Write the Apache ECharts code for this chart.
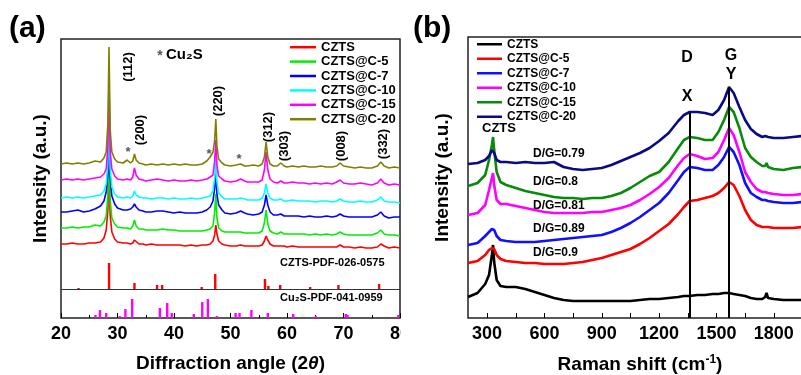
<!DOCTYPE html>
<html>
<head>
<meta charset="utf-8">
<script src="https://cdn.jsdelivr.net/npm/echarts@6.0.0/dist/echarts.min.js"></script>
<style>
  html, body { margin: 0; padding: 0; background: #fff; }
  #a { position: absolute; left: 0; top: 0; width: 401px; height: 375px; }
  #b { position: absolute; left: 401px; top: 0; width: 400px; height: 375px; }
</style>
</head>
<body>
<div id="a"></div>
<div id="b"></div>
<script>
// ---- panel (a): XRD ----
const xrdAngle = [20, 21, 22, 23, 24, 25, 26, 27, 27.6, 28.0, 28.3, 28.5, 28.7, 29.0, 29.5, 30, 31, 31.7, 32.3, 32.7,
  33.0, 33.3, 33.8, 34.5, 35, 36, 37, 38, 39, 40, 41, 42, 43, 44, 45, 45.8, 46.4, 46.9, 47.2, 47.4,
  47.6, 47.9, 48.5, 49, 50, 51, 51.8, 52.5, 53, 54, 55, 55.6, 56.0, 56.3, 56.6, 57.0, 57.6, 58.3, 58.9, 59.5,
  60, 61, 62, 63, 64, 65, 66, 67, 68, 68.8, 69.4, 70, 71, 72, 73, 74, 75, 76, 76.6, 77.2,
  78, 79, 80]
const xrdCzts = [74, 74, 75, 74, 74, 75, 75, 76, 80, 88, 108, 156, 103, 86, 79, 76, 75, 75, 74, 75,
  78, 76, 74, 74, 73, 74, 73, 73, 73, 73, 73, 72, 73, 72, 73, 73, 74, 77, 83, 93,
  84, 77, 74, 73, 72, 72, 73, 72, 72, 72, 72, 73, 77, 82, 78, 74, 72, 72, 72, 72,
  71, 72, 71, 71, 71, 71, 71, 71, 71, 71, 73, 71, 71, 70, 71, 70, 70, 71, 74, 72,
  70, 71, 70]
const xrdC5 = [90, 90, 91, 90, 91, 91, 93, 92, 96, 102, 123, 182, 118, 100, 94, 91, 90, 90, 89, 92,
  98, 92, 89, 89, 88, 88, 88, 89, 88, 88, 87, 87, 87, 87, 87, 88, 89, 92, 106, 124,
  100, 90, 87, 86, 86, 86, 86, 85, 85, 85, 85, 87, 95, 108, 94, 87, 85, 84, 86, 84,
  84, 84, 84, 84, 83, 84, 83, 84, 83, 84, 86, 84, 83, 83, 83, 83, 83, 85, 88, 84,
  83, 83, 82]
const xrdC7 = [106, 106, 107, 108, 106, 107, 109, 112, 117, 126, 145, 196, 140, 122, 114, 110, 108, 108, 109, 111,
  114, 111, 108, 107, 106, 106, 107, 107, 106, 105, 106, 105, 105, 105, 106, 108, 111, 117, 130, 146,
  124, 113, 108, 105, 104, 105, 107, 105, 104, 103, 104, 106, 113, 123, 113, 106, 103, 103, 104, 102,
  102, 102, 102, 101, 102, 101, 101, 102, 101, 102, 104, 102, 101, 101, 101, 101, 101, 103, 106, 102,
  100, 101, 101]
const xrdC10 = [120, 121, 120, 121, 120, 121, 122, 123, 127, 134, 156, 215, 150, 131, 124, 121, 120, 121, 120, 122,
  127, 123, 121, 120, 120, 119, 120, 120, 119, 120, 119, 119, 120, 119, 120, 121, 122, 127, 140, 160,
  136, 125, 121, 119, 119, 119, 120, 119, 118, 118, 118, 120, 125, 134, 125, 120, 118, 118, 119, 117,
  117, 118, 117, 117, 117, 116, 117, 117, 116, 117, 119, 117, 116, 116, 117, 116, 116, 118, 121, 117,
  116, 116, 115]
const xrdC15 = [138, 139, 138, 139, 138, 139, 140, 141, 144, 149, 172, 238, 167, 149, 142, 139, 138, 139, 138, 141,
  150, 143, 139, 138, 137, 138, 139, 138, 137, 138, 137, 137, 138, 137, 138, 139, 141, 143, 157, 178,
  153, 142, 139, 137, 136, 137, 139, 137, 136, 136, 136, 138, 148, 166, 148, 139, 136, 135, 137, 135,
  135, 136, 135, 135, 134, 135, 134, 135, 134, 136, 138, 135, 134, 134, 135, 134, 133, 135, 139, 135,
  133, 134, 133]
const xrdC20 = [154, 155, 154, 155, 154, 155, 157, 156, 160, 166, 195, 271, 189, 166, 159, 156, 155, 158, 155, 157,
  164, 158, 155, 154, 153, 154, 153, 154, 153, 154, 153, 154, 153, 153, 154, 157, 161, 166, 178, 199,
  172, 159, 155, 153, 152, 153, 154, 152, 152, 153, 152, 154, 161, 176, 161, 154, 152, 152, 155, 152,
  151, 152, 151, 152, 151, 151, 152, 151, 151, 152, 155, 152, 151, 150, 151, 150, 150, 152, 156, 152,
  150, 151, 150]

// reference patterns (stick heights)
const cztsRefAngle = [23.1, 28.5, 33.0, 37.0, 37.9, 44.9, 47.3, 56.1, 56.7, 58.8, 64.1, 69.1, 76.3]
const cztsRefHeight = [1, 26, 6, 4, 4, 2, 15, 10, 3, 4, 2, 4, 5]
const cztsRefBase = 29
const cu2sRefAngle = [26.1, 26.9, 28.0, 30.4, 31.4, 32.6, 37.5, 38.8, 39.6, 43.5, 45.0, 46.0, 47.6, 50.9, 51.6,
  53.7, 56.6, 61.1, 65.1, 70.4, 70.7, 79.7]
const cu2sRefHeight = [3, 8, 5, 2, 9, 19, 10, 15, 5, 4, 16, 19, 2, 5, 5, 8, 5, 4, 2, 4, 3, 3]

const xrdNames = ['CZTS', 'CZTS@C-5', 'CZTS@C-7', 'CZTS@C-10', 'CZTS@C-15', 'CZTS@C-20']
const xrdColors = ['#ff0000', '#00ee00', '#0000ff', '#00ffff', '#ff00ff', '#808000']

// ---- panel (b): Raman ----
const ramanShift = [200, 250, 290, 310, 325, 331, 337, 350, 370, 400, 450, 500, 550, 600, 650, 700, 750, 800, 850, 900,
  950, 1000, 1050, 1100, 1150, 1200, 1250, 1300, 1330, 1360, 1400, 1440, 1480, 1510, 1540, 1566, 1590, 1620, 1650, 1680,
  1710, 1740, 1755, 1762, 1770, 1800, 1850, 1900, 1950, 2000]
const ramanCzts = [21, 25, 34, 43, 63, 73, 56, 38, 32, 31, 31, 29, 26, 23, 20, 18, 17, 17, 17, 17,
  17, 17, 17, 18, 19, 19, 20, 21, 22, 22, 23, 23, 24, 24, 25, 25, 24, 23, 22, 20,
  19, 19, 21, 25, 20, 19, 18, 18, 18, 18]
const ramanC5 = [55, 57, 63, 68, 70, 71, 69, 63, 59, 57, 56, 55, 55, 54, 54, 54, 55, 56, 58, 60,
  63, 66, 69, 74, 80, 87, 94, 104, 111, 117, 118, 120, 122, 125, 130, 136, 133, 122, 108, 98,
  93, 91, 91, 93, 91, 90, 90, 90, 91, 91]
const ramanC7 = [73, 75, 82, 86, 89, 90, 88, 82, 78, 77, 76, 76, 76, 77, 78, 79, 80, 81, 82, 83,
  86, 90, 95, 101, 108, 115, 125, 138, 146, 151, 150, 148, 148, 153, 161, 171, 166, 153, 135, 125,
  121, 118, 118, 120, 117, 116, 115, 115, 116, 116]
const ramanC10 = [103, 105, 113, 128, 140, 145, 133, 118, 114, 114, 112, 110, 108, 106, 105, 105, 105, 105, 106, 106,
  108, 110, 113, 118, 124, 131, 140, 153, 160, 164, 162, 159, 160, 166, 178, 190, 183, 166, 146, 136,
  129, 126, 126, 128, 125, 124, 123, 123, 124, 124]
const ramanC15 = [132, 135, 143, 158, 173, 181, 168, 146, 136, 133, 130, 127, 125, 123, 121, 120, 120, 119, 120, 120,
  122, 125, 130, 136, 142, 146, 156, 170, 178, 181, 180, 178, 178, 186, 198, 211, 206, 190, 170, 161,
  156, 152, 152, 155, 151, 149, 148, 150, 151, 151]
const ramanC20 = [154, 155, 158, 162, 168, 170, 165, 158, 156, 156, 155, 156, 155, 155, 156, 151, 149, 148, 149, 150,
  153, 157, 161, 165, 170, 177, 185, 197, 203, 206, 206, 205, 203, 208, 218, 231, 225, 211, 198, 189,
  184, 181, 182, 184, 181, 180, 180, 181, 182, 182]
const bandD = [1362, 206]
const bandG = [1566, 231]
const ramanTicks = [300, 600, 900, 1200, 1500, 1800]
const ramanMinorTicks = [300, 450, 600, 750, 900, 1050, 1200, 1350, 1500, 1650, 1800, 1950]
const ratioLabels = ['D/G=0.79', 'D/G=0.8', 'D/G=0.81', 'D/G=0.89', 'D/G=0.9']

const ramanNames = ['CZTS', 'CZTS@C-5', 'CZTS@C-7', 'CZTS@C-10', 'CZTS@C-15', 'CZTS@C-20']
const ramanColors = ['#000000', '#ff0000', '#1010ff', '#ff00ff', '#098a09', '#0a0a86']

const FONT = '"Liberation Sans", Arial, sans-serif'

function zip(xs, ys) {
  return xs.map((x, i) => [x, ys[i]])
}

function txt(x, y, text, size, opts) {
  opts = opts || {}
  return {
    type: 'text',
    x: x,
    y: y,
    rotation: opts.rotation || 0,
    style: {
      text: text,
      font: 'bold ' + size + 'px ' + FONT,
      fill: opts.fill || '#000',
      align: opts.align || 'left',
      verticalAlign: 'middle'
    }
  }
}

// peak index labels, reading bottom to top
function vtxt(x, y, text) {
  return txt(x, y, text, 13, { rotation: Math.PI / 2, align: 'center' })
}

function star(x, y, size) {
  return txt(x, y, '*', size, { fill: '#555', align: 'center' })
}

function sticks(name, angles, heights, base, color) {
  return {
    name: name,
    type: 'custom',
    data: zip(angles, heights),
    renderItem(params, api) {
      const p0 = api.coord([api.value(0), base])
      const p1 = api.coord([api.value(0), base + api.value(1)])
      return {
        type: 'rect',
        shape: { x: p0[0] - 1.2, y: p1[1], width: 2.4, height: p0[1] - p1[1] },
        style: { fill: color }
      }
    },
    z: 1
  }
}

// ---------- chart a ----------
const chartA = echarts.init(document.getElementById('a'))
const xrdSets = [xrdCzts, xrdC5, xrdC7, xrdC10, xrdC15, xrdC20]
const seriesA = xrdSets.map((ys, i) => ({
  name: xrdNames[i],
  type: 'line',
  data: zip(xrdAngle, ys),
  showSymbol: false,
  symbol: 'none',
  lineStyle: { width: 1.6, color: xrdColors[i] },
  itemStyle: { color: xrdColors[i] },
  z: 2
}))
seriesA[0].markLine = {
  silent: true,
  symbol: 'none',
  label: { show: false },
  lineStyle: { color: '#333', width: 1, type: 'solid' },
  data: [{ yAxis: cztsRefBase }]
}
seriesA.push(sticks('CZTS-PDF', cztsRefAngle, cztsRefHeight, cztsRefBase, '#ff0000'))
seriesA.push(sticks('Cu2S-PDF', cu2sRefAngle, cu2sRefHeight, 0, '#ff00ff'))

chartA.setOption({
  animation: false,
  textStyle: { fontFamily: FONT },
  grid: {
    left: 61, top: 39, width: 339, height: 279,
    outerBoundsMode: 'none',
    show: true, borderColor: '#222', borderWidth: 1.5
  },
  legend: {
    orient: 'vertical',
    left: 290,
    top: 40,
    padding: 0,
    itemGap: 0,
    itemWidth: 26,
    itemHeight: 2.5,
    icon: 'rect',
    data: xrdNames,
    textStyle: { fontSize: 13, fontWeight: 'bold', color: '#000', lineHeight: 14.4, fontFamily: FONT }
  },
  xAxis: {
    type: 'value',
    min: 20,
    max: 80,
    interval: 10,
    axisLine: { show: false },
    axisTick: { inside: true, length: 5, lineStyle: { color: '#000' } },
    minorTick: { show: true, splitNumber: 2, length: 3, lineStyle: { color: '#000' } },
    splitLine: { show: false },
    axisLabel: { fontSize: 18, fontWeight: 'bold', color: '#000', margin: 7, fontFamily: FONT },
    name: '{n|Diffraction angle (2}{i|θ}{n|)}',
    nameLocation: 'middle',
    nameGap: 36,
    nameTextStyle: {
      rich: {
        n: { fontSize: 19, fontWeight: 'bold', color: '#000', fontFamily: FONT },
        i: { fontSize: 19, fontWeight: 'bold', fontStyle: 'italic', color: '#000', fontFamily: FONT }
      }
    }
  },
  yAxis: {
    type: 'value',
    min: 0,
    max: 279,
    axisLine: { show: false },
    axisTick: { show: false },
    axisLabel: { show: false },
    splitLine: { show: false },
    name: 'Intensity (a.u.)',
    nameLocation: 'middle',
    nameGap: 11,
    nameTextStyle: { fontSize: 19, fontWeight: 'bold', color: '#000', fontFamily: FONT }
  },
  graphic: [
    txt(9, 29, '(a)', 30),
    star(160, 56, 14),
    txt(166, 55, 'Cu₂S', 15),
    vtxt(128, 67, '(112)'),
    vtxt(140, 130, '(200)'),
    vtxt(218, 101, '(220)'),
    vtxt(268, 127, '(312)'),
    vtxt(284, 146, '(303)'),
    vtxt(341, 146, '(008)'),
    vtxt(383, 144, '(332)'),
    star(128, 152, 13),
    star(209, 154, 13),
    star(239, 159, 13),
    txt(280, 263, 'CZTS-PDF-026-0575', 11),
    txt(280, 298, 'Cu₂S-PDF-041-0959', 11)
  ],
  series: seriesA
})

// ---------- chart b ----------
const chartB = echarts.init(document.getElementById('b'))
const ramanSets = [ramanCzts, ramanC5, ramanC7, ramanC10, ramanC15, ramanC20]
const seriesB = ramanSets.map((ys, i) => ({
  name: ramanNames[i],
  type: 'line',
  data: zip(ramanShift, ys),
  showSymbol: false,
  symbol: 'none',
  lineStyle: { width: 2.6, color: ramanColors[i] },
  itemStyle: { color: ramanColors[i] }
}))
seriesB[5].markLine = {
  silent: true,
  symbol: 'none',
  label: { show: false },
  lineStyle: { color: '#000', width: 2, type: 'solid' },
  data: [
    [{ coord: [bandD[0], 0] }, { coord: bandD }],
    [{ coord: [bandG[0], 0] }, { coord: bandG }]
  ]
}

chartB.setOption({
  animation: false,
  textStyle: { fontFamily: FONT },
  grid: {
    left: 67, top: 37, width: 344, height: 281,
    outerBoundsMode: 'none',
    show: true, borderColor: '#222', borderWidth: 1.5
  },
  legend: {
    orient: 'vertical',
    left: 76,
    top: 37,
    padding: 0,
    itemGap: 0,
    itemWidth: 25,
    itemHeight: 2.5,
    icon: 'rect',
    data: ramanNames,
    textStyle: { fontSize: 12, fontWeight: 'bold', color: '#000', lineHeight: 14.5, fontFamily: FONT }
  },
  xAxis: {
    type: 'value',
    min: 200,
    max: 2000,
    axisLine: { show: false },
    axisTick: { inside: true, length: 5, customValues: ramanMinorTicks, lineStyle: { color: '#000' } },
    splitLine: { show: false },
    axisLabel: {
      fontSize: 18, fontWeight: 'bold', color: '#000', margin: 7, fontFamily: FONT,
      customValues: ramanTicks,
      formatter: v => String(v)
    },
    name: '{n|Raman shift (cm}{s|-1}{n|)}',
    nameLocation: 'middle',
    nameGap: 36,
    nameTextStyle: {
      rich: {
        n: { fontSize: 19, fontWeight: 'bold', color: '#000', fontFamily: FONT },
        s: { fontSize: 12, fontWeight: 'bold', color: '#000', fontFamily: FONT, padding: [0, 0, 9, 0] }
      }
    }
  },
  yAxis: {
    type: 'value',
    min: 0,
    max: 281,
    axisLine: { show: false },
    axisTick: { show: false },
    axisLabel: { show: false },
    splitLine: { show: false },
    name: 'Intensity (a.u.)',
    nameLocation: 'middle',
    nameGap: 16,
    nameTextStyle: { fontSize: 19, fontWeight: 'bold', color: '#000', fontFamily: FONT }
  },
  graphic: [
    txt(12, 29, '(b)', 30),
    txt(286, 58, 'D', 16, { align: 'center' }),
    txt(330, 56, 'G', 16, { align: 'center' }),
    txt(330, 75, 'Y', 16, { align: 'center' }),
    txt(286, 97, 'X', 16, { align: 'center' }),
    txt(81, 128, 'CZTS', 13),
    txt(132, 154, ratioLabels[0], 12),
    txt(132, 182, ratioLabels[1], 12),
    txt(132, 206, ratioLabels[2], 12),
    txt(132, 229, ratioLabels[3], 12),
    txt(132, 253, ratioLabels[4], 12)
  ],
  series: seriesB
})
</script>
</body>
</html>
